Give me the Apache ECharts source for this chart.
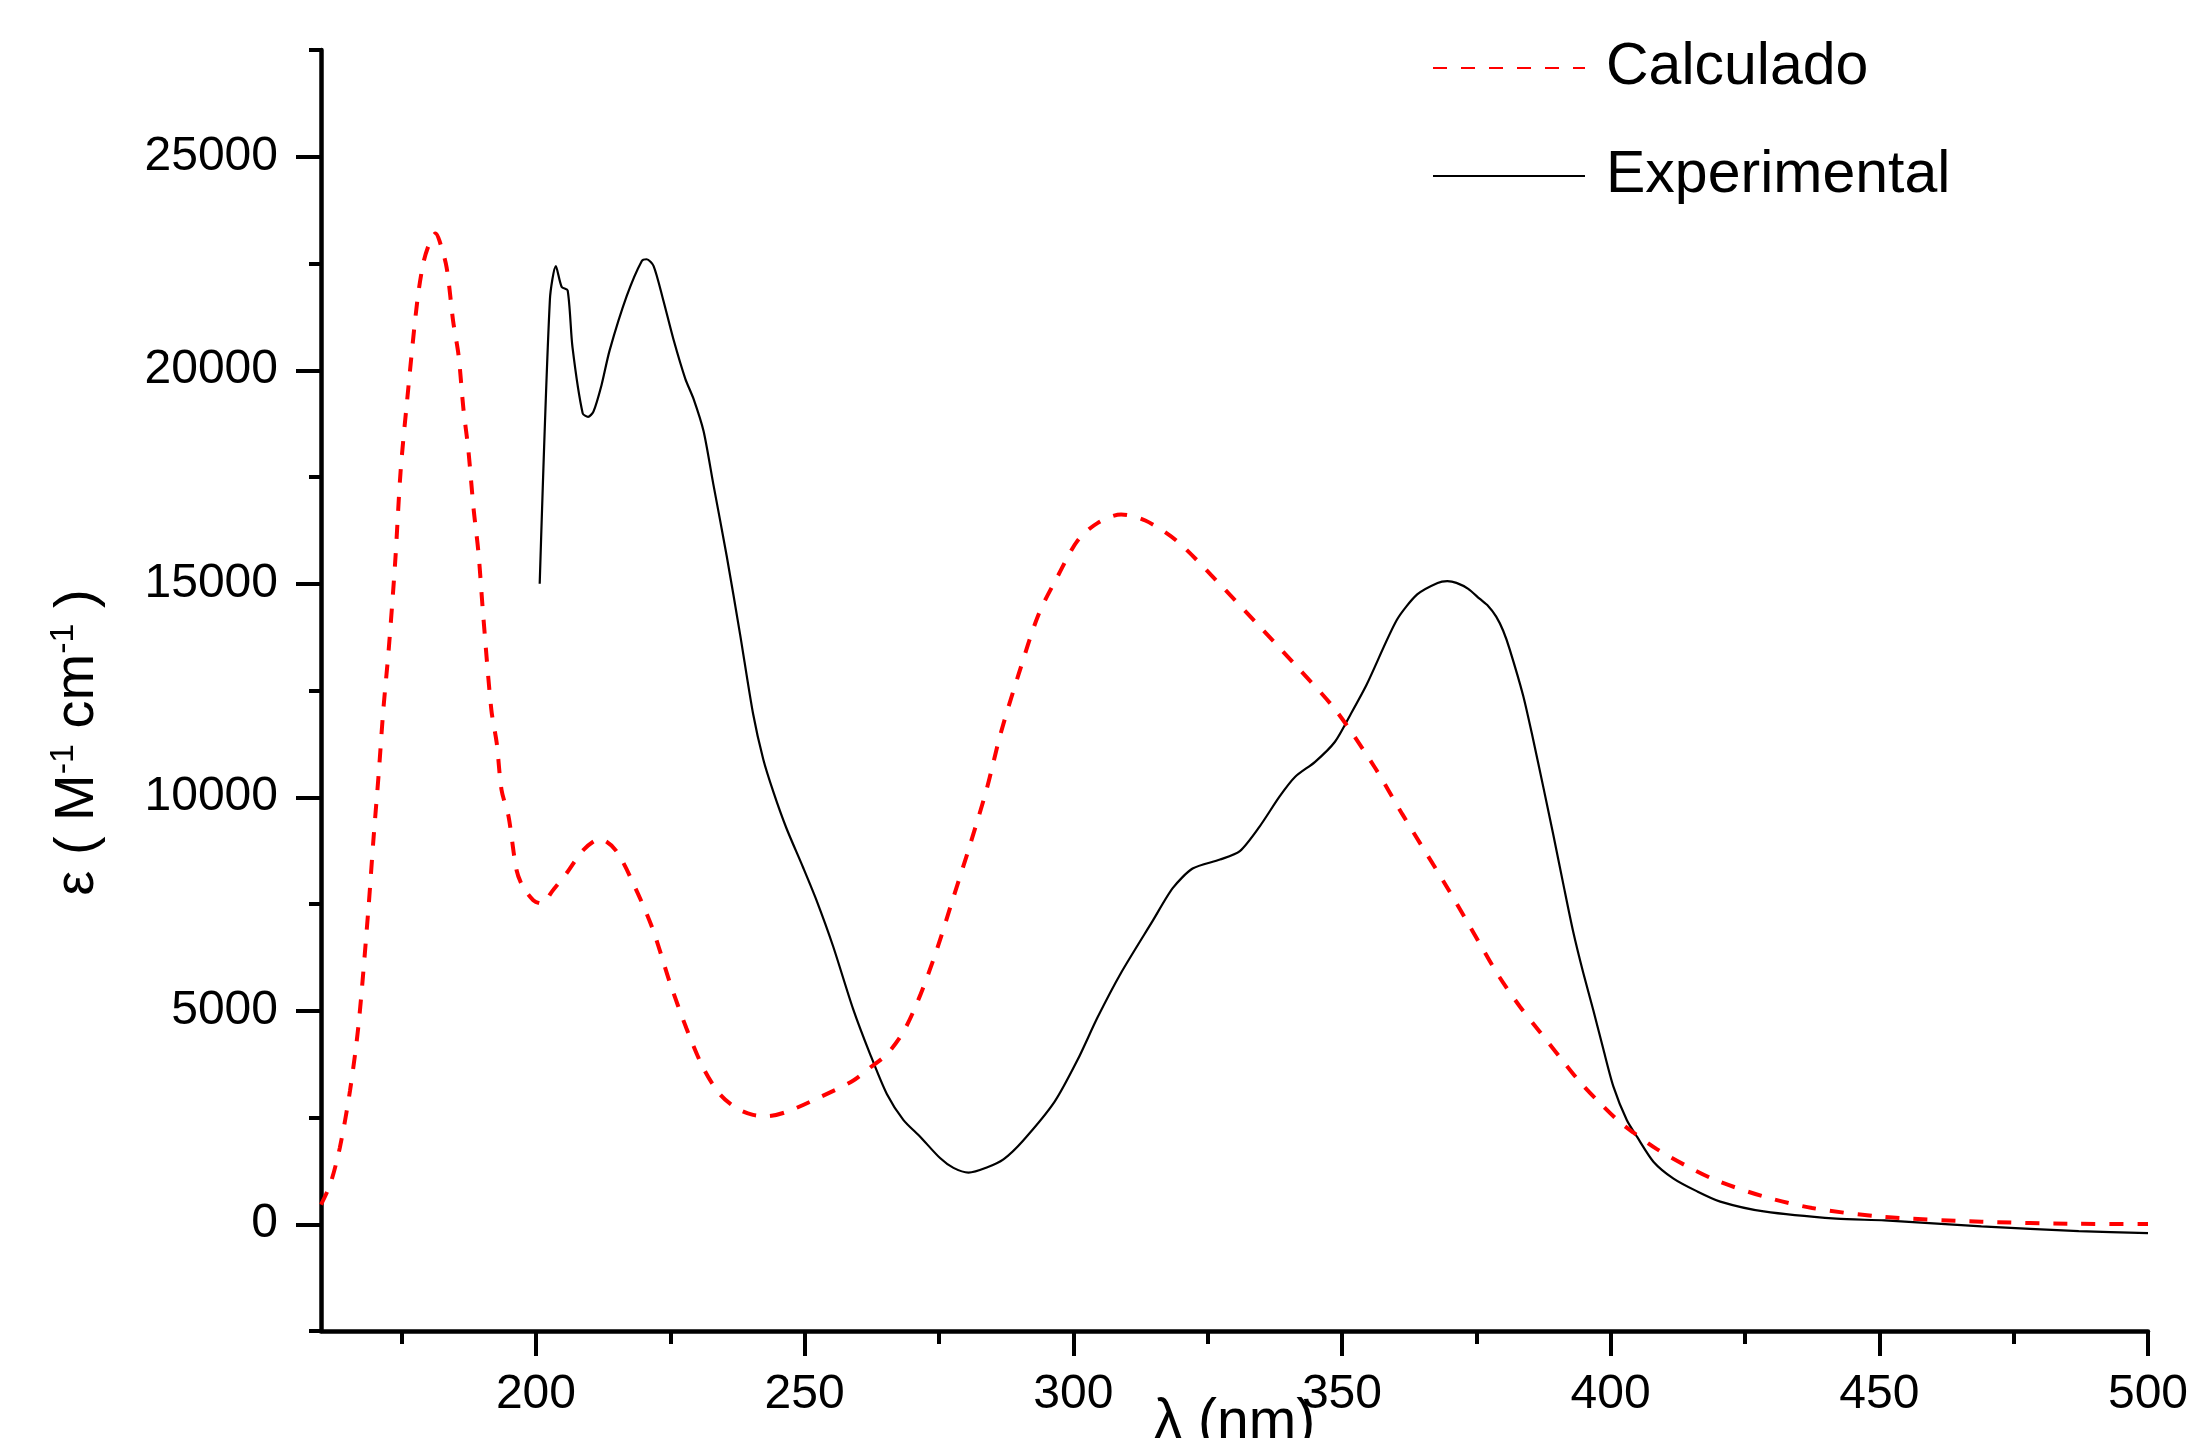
<!DOCTYPE html>
<html>
<head>
<meta charset="utf-8">
<script src="https://cdn.jsdelivr.net/npm/echarts@6/dist/echarts.min.js"></script>
<style>
html,body{margin:0;padding:0;background:#fff;}
#chart{width:2194px;height:1438px;}
</style>
</head>
<body>
<div id="chart"></div>
<script>
// ---- data (wavelength nm, epsilon M^-1 cm^-1) ----
var calcWavelength = [160,161.7,163.5,165.4,167.0,168.8,169.8,170.7,171.6,172.6,173.8,174.8,176.0,177.9,179.1,180.3,181.3,182.1,183.4,184.6,185.6,186.5,187.4,188.4,189.3,190.2,191.7,192.7,193.6,194.9,196.4,197.6,199.5,201.0,203.2,205.7,208.8,211.9,214.9,218.7,221.8,224.9,228.0,231.1,234.2,237.3,240.4,242.9,246.6,252.9,259.0,262.2,265.3,268.4,271.5,274.6,277.7,280.8,283.9,286.5,289.8,293.5,297.2,300.8,304.5,308.9,313.4,319.2,326.6,334.0,341.3,348.7,356.0,361.2,369.8,375.6,379.3,383.1,386.8,390.5,394.3,398.0,401.7,404.2,408.6,414.2,419.8,428.5,437.5,451.0,469.0,487.1,500];
var calcEpsilon = [460,930,1790,3130,4690,7350,9080,10490,12050,13460,15500,17610,19260,21600,22540,23010,23200,23010,22390,21140,20350,19100,18160,16750,15730,14240,12050,11270,10170,9550,8290,7900,7590,7510,7830,8220,8760,9020,8750,7820,6890,5670,4590,3670,3050,2720,2560,2530,2630,2980,3360,3670,3980,4510,5360,6430,7660,8890,10200,11500,12870,14270,15200,16010,16420,16620,16480,16010,15080,14090,13100,12060,10720,9610,7840,6580,5790,5100,4510,3920,3330,2840,2390,2150,1760,1360,1020,650,380,170,60,10,5];

var expWavelength = [200.7,202.6,203.7,204.8,205.9,206.8,208.7,209.7,210.7,212.2,213.7,216.9,219.7,220.6,221.9,223.7,225.6,227.8,229.3,231.2,233.0,235.5,238.0,240.4,242.3,244.2,246.6,249.7,252.2,255.3,259.0,262.2,265.3,268.4,271.5,275.2,277.7,280.5,283.9,287.0,290.6,296.5,300.8,304.5,308.9,314.8,318.5,322.2,327.3,331.0,334.7,338.4,341.3,345.0,348.7,351.6,354.6,360.2,364.0,367.8,369.6,371.3,373.5,375.6,377.2,378.7,380.0,381.2,383.7,385.5,387.5,389.3,391.2,393.0,394.9,396.8,398.6,400.5,403.0,404.9,408.0,411.7,416.1,420.4,428.5,442.0,451.0,469.0,487.1,500];
var expEpsilon = [15000,21660,22440,21950,21870,20540,18990,18910,19030,19650,20460,21740,22560,22600,22440,21640,20720,19800,19340,18570,17340,15650,13810,11960,10890,10120,9280,8360,7590,6510,5050,3980,3050,2440,2050,1550,1320,1210,1330,1520,1950,2865,3850,4840,5890,7110,7870,8330,8540,8740,9320,10020,10480,10830,11300,11940,12640,14150,14750,15020,15060,15020,14880,14650,14480,14230,13900,13470,12390,11400,10220,9140,7960,6870,5890,5000,4120,3230,2440,2050,1460,1070,770,530,300,130,90,-50,-160,-210];

var xMajorTicks = [200,250,300,350,400,450,500];
var xMinorTicks = [175,225,275,325,375,425,475];
var yMajorTicks = [0,5000,10000,15000,20000,25000];
var yMinorTicks = [-2500,2500,7500,12500,17500,22500,27500];

var seriesNames = ['Calculado','Experimental'];
var xTitle = 'λ (nm)';

function pairs(xs, ys){ var out=[]; for(var i=0;i<xs.length;i++) out.push([xs[i], ys[i]]); return out; }

var FONT = "'Liberation Sans', Arial, sans-serif";
var chart = echarts.init(document.getElementById('chart'), null, {renderer:'canvas'});
var option = {
  backgroundColor: '#ffffff',
  animation: false,
  grid: {left: 321, right: 46, top: 50, bottom: 107, containLabel: false, outerBoundsMode: 'none'},
  legend: {
    data: seriesNames,
    orient: 'vertical',
    left: 1432, top: 38,
    padding: 0,
    itemWidth: 152, itemHeight: 4, itemGap: 48,
    itemStyle: {opacity: 0},
    lineStyle: {type: 'inherit'},
    textStyle: {fontSize: 59, fontFamily: FONT, color: '#000', lineHeight: 60, padding: [0,0,0,16]}
  },
  xAxis: [
    {
      type: 'value', min: 160, max: 500, position: 'bottom',
      name: xTitle, nameLocation: 'middle', nameGap: 64, nameMoveOverlap: false,
      nameTextStyle: {fontSize: 57, fontFamily: FONT, color: '#000'},
      axisLine: {show: true, onZero: false, lineStyle: {color: '#000', width: 4.5}},
      axisTick: {show: true, inside: false, length: 25, customValues: xMajorTicks, lineStyle: {color: '#000', width: 4}},
      axisLabel: {show: true, customValues: xMajorTicks, margin: 40, fontSize: 48, fontFamily: FONT, color: '#000',
        formatter: function(v){ return String(v); }},
      splitLine: {show: false}
    },
    {
      type: 'value', min: 160, max: 500, position: 'bottom',
      axisLine: {show: false, onZero: false},
      axisTick: {show: true, inside: false, length: 13, customValues: xMinorTicks, lineStyle: {color: '#000', width: 4}},
      axisLabel: {show: false},
      splitLine: {show: false}
    }
  ],
  yAxis: [
    {
      type: 'value', min: -2500, max: 27500, position: 'left',
      name: '{a|ε ( M}{s|-1}{a| cm}{s|-1}{a| )}',
      nameLocation: 'middle', nameRotate: 90, nameGap: 212, nameMoveOverlap: false,
      nameTextStyle: {
        fontSize: 56, fontFamily: FONT, color: '#000', padding: [0,104,0,0],
        rich: {
          a: {fontSize: 56, fontFamily: FONT, color: '#000', lineHeight: 62},
          s: {fontSize: 34, fontFamily: FONT, color: '#000', lineHeight: 62, verticalAlign: 'top', padding: [0,0,26,0]}
        }
      },
      axisLine: {show: true, onZero: false, lineStyle: {color: '#000', width: 4.5}},
      axisTick: {show: true, inside: false, length: 25, customValues: yMajorTicks, lineStyle: {color: '#000', width: 4}},
      axisLabel: {show: true, customValues: yMajorTicks, margin: 43, fontSize: 48, fontFamily: FONT, color: '#000',
        formatter: function(v){ return String(v); }},
      splitLine: {show: false}
    },
    {
      type: 'value', min: -2500, max: 27500, position: 'left',
      axisLine: {show: false, onZero: false},
      axisTick: {show: true, inside: false, length: 12, customValues: yMinorTicks, lineStyle: {color: '#000', width: 4}},
      axisLabel: {show: false},
      splitLine: {show: false}
    }
  ],
  series: [
    {
      name: seriesNames[0], type: 'line', xAxisIndex: 0, yAxisIndex: 0,
      data: pairs(calcWavelength, calcEpsilon),
      showSymbol: false, symbol: 'none', smooth: 0.3,
      lineStyle: {color: '#ff0000', width: 4, type: [14, 14]},
      itemStyle: {color: '#ff0000'},
      z: 3
    },
    {
      name: seriesNames[1], type: 'line', xAxisIndex: 0, yAxisIndex: 0,
      data: pairs(expWavelength, expEpsilon),
      showSymbol: false, symbol: 'none', smooth: 0.25,
      lineStyle: {color: '#000000', width: 2.2, type: 'solid'},
      itemStyle: {color: '#000000'},
      z: 2
    }
  ]
};
chart.setOption(option);
</script>
</body>
</html>
